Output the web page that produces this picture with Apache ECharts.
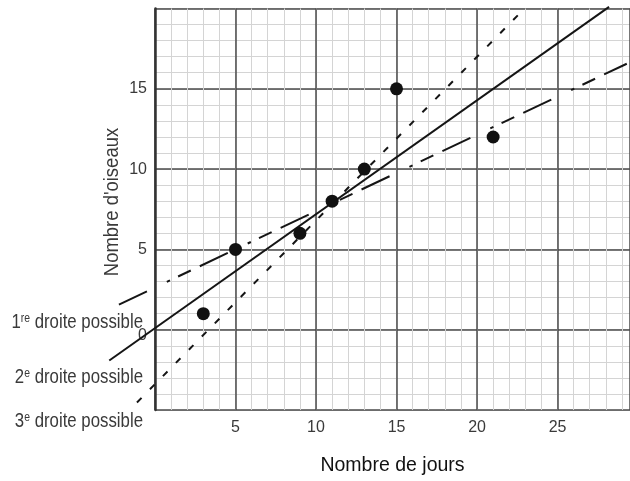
<!DOCTYPE html>
<html>
<head>
<meta charset="utf-8">
<script src="https://cdn.jsdelivr.net/npm/echarts@6/dist/echarts.min.js"></script>
<style>html,body{margin:0;padding:0;background:#fff;}#c{width:630px;height:481px;}</style>
</head>
<body>
<div id="c"></div>
<script>
// ---- data ----
const daysX = [3, 5, 9, 11, 13, 15, 21];
const birdsY = [1, 5, 6, 8, 10, 15, 12];
const line1 = [[-2.24, 1.61], [29.3, 16.57]];   // 1re droite (tirets longs)
const line2 = [[-2.84, -1.86], [28.2, 20.1]];   // 2e droite (trait plein)
const line3 = [[-1.12, -4.47], [22.85, 19.9]];  // 3e droite (pointillés)
const xTickLabels = [5, 10, 15, 20, 25];
const yTickLabels = [0, 5, 10, 15];
const lineLabelNum = ['1', '2', '3'];
const lineLabelSup = ['re', 'e', 'e'];
const lineLabelText = ' droite possible';
const xName = 'Nombre de jours';
const yName = "Nombre d'oiseaux";

const REG = "'Liberation Sans', Arial, sans-serif";
const TXT = '#3a3a3a';

const chart = echarts.init(document.getElementById('c'), null, {renderer: 'canvas'});
const xr = {min: 0, max: 29.5};
const yr = {min: -5, max: 20};
const gridLeft = 155, gridW = 475;
const unit = gridW / (xr.max - xr.min);
const xExt = -3.5; // wider invisible frame so the lines can reach left of the axis

const labelY = [322, 377, 421];

chart.setOption({
  animation: false,
  backgroundColor: '#fff',
  grid: [
    {left: gridLeft, top: 8.5, width: gridW, bottom: 70, containLabel: false},
    {left: gridLeft + xExt * unit, top: 8.5, width: gridW - xExt * unit, bottom: 70, containLabel: false}
  ],
  xAxis: [
    {type: 'value', gridIndex: 0, min: xr.min, max: xr.max, interval: 1, position: 'bottom',
     axisLine: {show: false}, axisTick: {show: false}, axisLabel: {show: false},
     splitLine: {show: true, lineStyle: {color: '#d4d4d4', width: 1}}},
    {type: 'value', gridIndex: 0, min: xr.min, max: xr.max, interval: 5, position: 'bottom',
     axisLine: {show: false}, axisTick: {show: false},
     axisLabel: {show: true, margin: 10, fontSize: 16, fontFamily: REG, color: TXT,
       showMaxLabel: false,
       formatter: v => xTickLabels.indexOf(v) >= 0 ? String(v) : ''},
     splitLine: {show: true, lineStyle: {color: '#4a4a4a', width: 1.5}},
     name: xName, nameLocation: 'middle', nameGap: 46,
     nameTextStyle: {fontSize: 19.5, fontFamily: REG, color: '#111'}},
    {type: 'value', gridIndex: 1, min: xExt, max: xr.max, show: false}
  ],
  yAxis: [
    {type: 'value', gridIndex: 0, min: yr.min, max: yr.max, interval: 1, position: 'left',
     axisLine: {show: false}, axisTick: {show: false}, axisLabel: {show: false},
     splitLine: {show: true, lineStyle: {color: '#d4d4d4', width: 1}}},
    {type: 'value', gridIndex: 0, min: yr.min, max: yr.max, interval: 5, position: 'left',
     axisLine: {show: true, onZero: false, lineStyle: {color: '#333', width: 2.5}},
     axisTick: {show: false},
     axisLabel: {show: true, margin: 8, fontSize: 16, fontFamily: REG, color: TXT,
       showMaxLabel: false, showMinLabel: false,
       formatter: v => v === 0 ? '{z|0}' : (yTickLabels.indexOf(v) >= 0 ? String(v) : ''),
       rich: {z: {fontSize: 16, fontFamily: REG, color: TXT, padding: [12, 0, 0, 0]}}},
     splitLine: {show: true, lineStyle: {color: '#4a4a4a', width: 1.5}}},
    {type: 'value', gridIndex: 1, min: yr.min, max: yr.max, show: false}
  ],
  series: [
    {type: 'line', data: line1, xAxisIndex: 2, yAxisIndex: 2, symbol: 'none', clip: false, z: 5,
     lineStyle: {color: '#151515', width: 2, type: [31, 22, 3.5, 9, 14, 10], dashOffset: 0}},
    {type: 'line', data: line2, xAxisIndex: 2, yAxisIndex: 2, symbol: 'none', clip: false, z: 5,
     lineStyle: {color: '#151515', width: 2, type: 'solid'}},
    {type: 'line', data: line3, xAxisIndex: 2, yAxisIndex: 2, symbol: 'none', clip: false, z: 5,
     lineStyle: {color: '#151515', width: 2, type: [6.5, 12], dashOffset: 0}},
    {type: 'scatter', data: daysX.map((x, i) => [x, birdsY[i]]), xAxisIndex: 0, yAxisIndex: 0,
     symbol: 'circle', symbolSize: 13, z: 6, itemStyle: {color: '#111', opacity: 1}}
  ],
  graphic: lineLabelNum.map((n, i) => ({
    type: 'text', z: 10, x: 143, y: labelY[i], scaleX: 0.8,
    style: {
      x: 0, y: 0, align: 'right', verticalAlign: 'middle',
      text: n + '{s|' + lineLabelSup[i] + '}' + lineLabelText,
      fontSize: 21, fontFamily: REG, fill: TXT,
      rich: {s: {fontSize: 13, fontFamily: REG, fill: TXT, verticalAlign: 'top'}}
    }
  })).concat([{
    type: 'text', z: 10, x: 112, y: 202, rotation: Math.PI / 2, scaleX: 0.88,
    style: {x: 0, y: 0, align: 'center', verticalAlign: 'middle',
      text: yName, fontSize: 21, fontFamily: REG, fill: TXT}
  }])
});
</script>
</body>
</html>
